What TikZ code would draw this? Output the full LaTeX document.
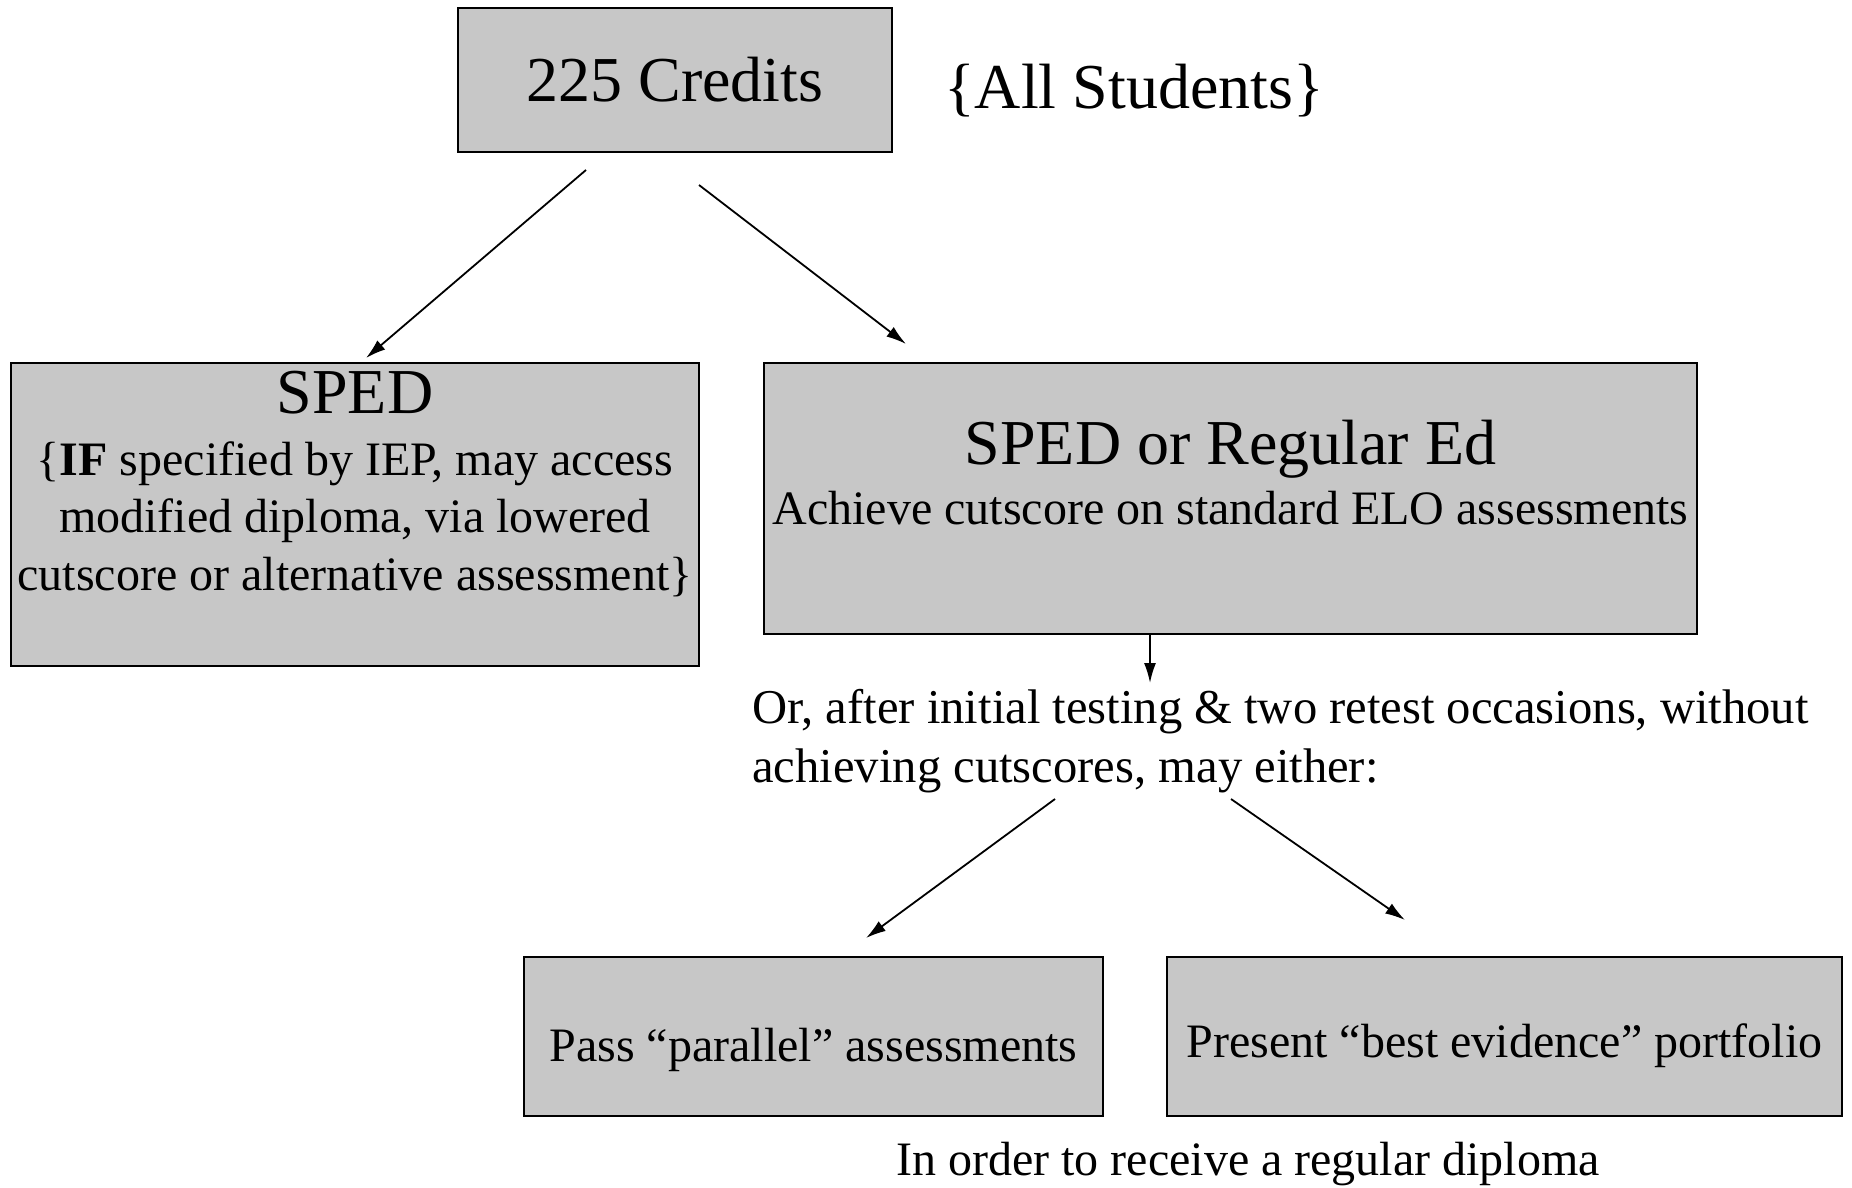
\documentclass[tikz,border=0pt]{standalone}
\usepackage{fontspec}
\setmainfont{Liberation Serif}
\usetikzlibrary{calc,arrows.meta}
\definecolor{boxgray}{gray}{0.78}

\begin{document}
\begin{tikzpicture}[x=0.5pt,y=-0.5pt,>={Latex[length=10pt,width=6pt]}]
	\tikzstyle{box}=[draw=black, line width=1pt, fill=boxgray, inner sep=0pt]
	\tikzstyle{big}=[font=\fontsize{32}{38}\selectfont]
	\tikzstyle{txt}=[font=\fontsize{24}{28.6}\selectfont]
	\tikzstyle{link}=[line width=0.9pt, ->]
	\useasboundingbox (0,0) rectangle (1852,1188);
	%Top
	\node[box, big, minimum width=217pt, minimum height=72pt](credits) at (675,80){225 Credits};
	\node[big](all) at (1134,91){\{All Students\}};
	%Second Row
	\node[box, minimum width=344pt, minimum height=151.5pt](sped) at (355,514.5){};
	\node[txt, anchor=north, inner sep=0pt, align=center](spedtxt) at ($(sped.north)+(0,9)$){{\fontsize{32}{38}\selectfont SPED}\\[2.4pt]\{\textbf{IF} specified by IEP, may access\\modified diploma, via lowered\\cutscore or alternative assessment\}};
	\node[box, minimum width=466.5pt, minimum height=135.5pt](reg) at (1230.5,498.5){};
	\node[txt, anchor=north, inner sep=0pt, align=center](regtxt) at ($(reg.north)+(0,58)$){{\fontsize{32}{38}\selectfont SPED or Regular Ed}\\[1.4pt]Achieve cutscore on standard ELO assessments};
	%Middle text
	\node[txt, font=\fontsize{24.3}{29.5}\selectfont, anchor=north west, inner sep=0pt, align=left](either) at (752,689){Or, after initial testing \& two retest occasions, without\\achieving cutscores, may either:};
	%Third Row
	\node[box, txt, minimum width=289.5pt, minimum height=79.5pt](pass) at (813.5,1036.5){};
	\node[txt](passtxt) at ($(pass.center)+(0,13)$){Pass “parallel” assessments};
	\node[box, txt, minimum width=337.5pt, minimum height=79.5pt](present) at (1504.5,1036.5){};
	\node[txt](presenttxt) at ($(present.center)+(0,9)$){Present “best evidence” portfolio};
	\node[txt](order) at (1248,1164){In order to receive a regular diploma};
	%Arrows
	\draw[link] ($(credits.south)+(-89,17)$) -- ($(sped.north)+(11,-4)$);
	\draw[link] ($(credits.south)+(24,32)$) -- ($(reg.north west)+(143,-18)$);
	\draw[link] ($(reg.south)+(-80.5,0)$) -- ($(either.north west)+(398,-6)$);
	\draw[link] ($(either.north west)+(303,110)$) -- ($(pass.north)+(52.5,-18)$);
	\draw[link] ($(either.north west)+(479,110)$) -- ($(present.north)+(-99.5,-36)$);
\end{tikzpicture}
\end{document}
